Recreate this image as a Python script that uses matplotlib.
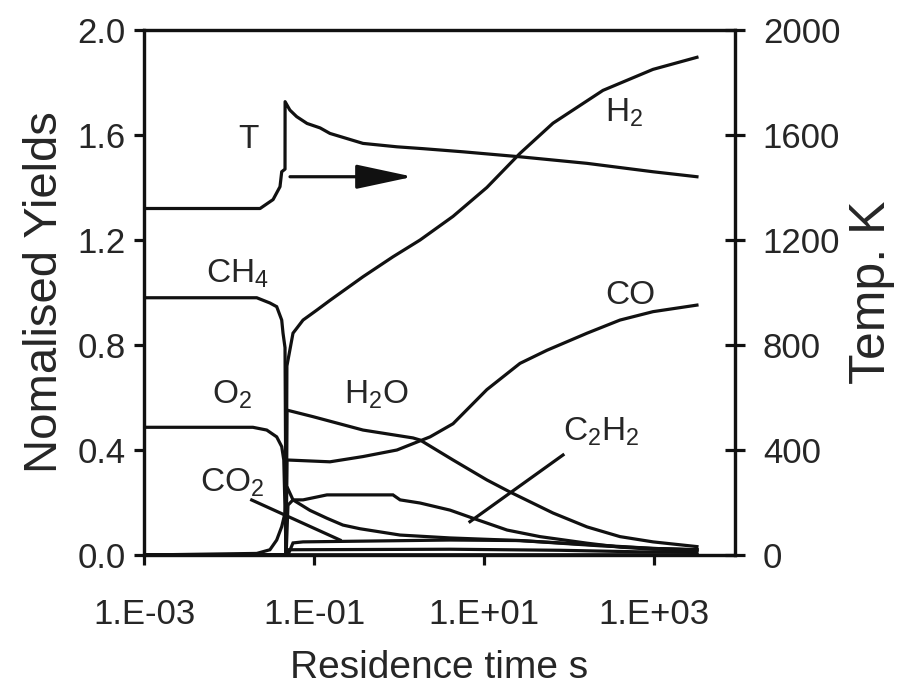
import matplotlib
matplotlib.use("Agg")
import matplotlib.pyplot as plt
from matplotlib.ticker import FixedLocator, FixedFormatter, NullLocator

plt.rcParams['font.family'] = ['Liberation Sans', 'DejaVu Sans']
plt.rcParams['mathtext.fontset'] = 'custom'
plt.rcParams['mathtext.rm'] = 'Liberation Sans'
plt.rcParams['mathtext.it'] = 'Liberation Sans'

# ---------------- data (residence time s, value) ----------------
t_T = [1e-3, 0.0232, 0.033, 0.0398, 0.0417, 0.0456, 0.0457, 0.052, 0.0625, 0.0828,
       0.118, 0.154, 0.377, 0.946, 1.91, 5.66, 26.5, 163, 973, 3200]
v_T = [1320, 1320, 1354, 1403, 1460, 1470, 1727, 1695, 1670, 1644,
       1627, 1606, 1568, 1555, 1548, 1536, 1517, 1492, 1460, 1441]

t_CH4 = [1e-3, 0.0212, 0.0303, 0.0364, 0.0417, 0.0432, 0.0456, 0.047, 3200]
v_CH4 = [0.98, 0.98, 0.96, 0.946, 0.895, 0.845, 0.79, 0.0, 0.0]

t_H2 = [1e-3, 0.047, 0.048, 0.0566, 0.0743, 0.108, 0.154, 0.377, 0.849, 1.77,
        4.32, 10.8, 26.5, 64.8, 251, 973, 3200]
v_H2 = [0.0, 0.0, 0.72, 0.845, 0.895, 0.933, 0.97, 1.06, 1.136, 1.2,
        1.29, 1.40, 1.53, 1.645, 1.77, 1.85, 1.896]

t_O2 = [1e-3, 0.0191, 0.0278, 0.0364, 0.0417, 0.0441, 0.047, 3200]
v_O2 = [0.4865, 0.4865, 0.476, 0.45, 0.413, 0.362, 0.0, 0.0]

t_H2O = [1e-3, 0.047, 0.048, 0.0973, 0.377, 1.46, 1.77, 4.32, 10.8, 20.2,
         64.8, 163, 398, 973, 3200]
v_H2O = [0.0, 0.0, 0.552, 0.527, 0.476, 0.446, 0.438, 0.362, 0.286, 0.24,
         0.16, 0.107, 0.07, 0.05, 0.032]

t_CO = [1e-3, 0.047, 0.048, 0.154, 0.377, 0.946, 2.32, 4.32, 10.8, 26.5,
        55.1, 163, 398, 973, 3200]
v_CO = [0.0, 0.0, 0.362, 0.355, 0.375, 0.40, 0.45, 0.50, 0.63, 0.73,
        0.78, 0.845, 0.895, 0.927, 0.952]

t_C2H2 = [1e-3, 0.047, 0.0494, 0.0566, 0.0743, 0.142, 0.849, 1.03, 1.77, 3.98,
          7.43, 18.7, 45.6, 163, 398, 973, 3200]
v_C2H2 = [0.0, 0.0, 0.19, 0.21, 0.21, 0.229, 0.229, 0.21, 0.198, 0.171,
          0.14, 0.095, 0.07, 0.045, 0.03, 0.022, 0.02]

t_CO2 = [1e-3, 0.0212, 0.0303, 0.0364, 0.0417, 0.0456, 0.0481, 0.0566, 0.0897, 0.142,
         0.219, 0.348, 1.03, 3.98, 26.5, 163, 973, 3200]
v_CO2 = [0.0, 0.006, 0.02, 0.057, 0.108, 0.16, 0.26, 0.21, 0.17, 0.14,
         0.114, 0.10, 0.076, 0.065, 0.055, 0.04, 0.025, 0.02]

t_minor1 = [1e-3, 0.0494, 0.0566, 0.0743, 3.98, 26.5, 78.4, 232, 973, 3200]
v_minor1 = [0.0, 0.0, 0.046, 0.05, 0.057, 0.055, 0.045, 0.035, 0.025, 0.02]

t_minor2 = [1e-3, 0.047, 0.0494, 3.98, 78.4, 684, 3200]
v_minor2 = [0.0, 0.0, 0.02, 0.022, 0.018, 0.012, 0.01]

x_ticks = [1e-3, 1e-1, 1e1, 1e3]
x_ticklabels = ['1.E-03', '1.E-01', '1.E+01', '1.E+03']
y_ticks = [0.0, 0.4, 0.8, 1.2, 1.6, 2.0]
y_ticklabels = ['0.0', '0.4', '0.8', '1.2', '1.6', '2.0']
T_ticks = [0, 400, 800, 1200, 1600, 2000]
T_ticklabels = ['0', '400', '800', '1200', '1600', '2000']

# ---------------- figure ----------------
ink = '#111111'
txt = '#262626'
lw = 2.3

fig = plt.figure(figsize=(9.01, 7.0), dpi=100)
ax = fig.add_axes([144/901, 1-555/700, (735-144)/901, (555-30)/700])
ax2 = ax.twinx()

for tt, vv in [(t_CH4, v_CH4), (t_H2, v_H2), (t_O2, v_O2), (t_H2O, v_H2O),
               (t_CO, v_CO), (t_C2H2, v_C2H2), (t_CO2, v_CO2),
               (t_minor1, v_minor1), (t_minor2, v_minor2)]:
    ax.plot(tt, vv, color=ink, lw=lw, solid_joinstyle='miter')
ax2.plot(t_T, v_T, color=ink, lw=lw)

ax.set_xscale('log')
ax.set_xlim(1e-3, 8970)
ax.set_ylim(0, 2.0)
ax2.set_ylim(0, 2000)

ax.xaxis.set_major_locator(FixedLocator(x_ticks))
ax.xaxis.set_major_formatter(FixedFormatter(x_ticklabels))
ax.xaxis.set_minor_locator(NullLocator())
ax.yaxis.set_major_locator(FixedLocator(y_ticks))
ax.yaxis.set_major_formatter(FixedFormatter(y_ticklabels))
ax2.yaxis.set_major_locator(FixedLocator(T_ticks))
ax2.yaxis.set_major_formatter(FixedFormatter(T_ticklabels))

for a in (ax, ax2):
    for s in a.spines.values():
        s.set_linewidth(lw)
        s.set_color(ink)

ax.tick_params(axis='x', which='major', direction='out', length=7, width=lw,
               labelsize=25, pad=24, colors=ink, labelcolor=txt, top=False)
ax.tick_params(axis='y', direction='out', length=7, width=lw,
               labelsize=25, pad=6, colors=ink, labelcolor=txt, right=False)
ax2.tick_params(axis='y', direction='inout', length=14, width=lw,
                labelsize=25, pad=13, colors=ink, labelcolor=txt)

ax.set_xlabel('Residence time s', fontsize=28, color=txt, labelpad=14)
ax.set_ylabel('Nomalised Yields', fontsize=34, color=txt, labelpad=8)
ax2.set_ylabel('Temp. K', fontsize=36, color=txt, labelpad=6)

# labels
fs = 24
ax2.text(0.0168, 1581, 'T', fontsize=fs, color=txt, ha='center', va='center')
ax.text(0.0127, 1.07, r'CH$_\mathregular{4}$', fontsize=fs, color=txt, ha='center', va='center')
ax.text(0.0108, 0.61, r'O$_\mathregular{2}$', fontsize=fs, color=txt, ha='center', va='center')
ax.text(0.54, 0.61, r'H$_\mathregular{2}$O', fontsize=fs, color=txt, ha='center', va='center')
ax.text(0.0108, 0.275, r'CO$_\mathregular{2}$', fontsize=fs, color=txt, ha='center', va='center')
ax.text(443, 1.686, r'H$_\mathregular{2}$', fontsize=fs, color=txt, ha='center', va='center')
ax.text(530, 0.99, 'CO', fontsize=fs, color=txt, ha='center', va='center')
ax.text(238, 0.47, r'C$_\mathregular{2}$H$_\mathregular{2}$', fontsize=fs, color=txt, ha='center', va='center')

# pointer lines
ax.plot([0.0185, 0.2023], [0.2095, 0.057], color=ink, lw=lw)
ax.plot([85, 6.84], [0.381, 0.127], color=ink, lw=lw)

# arrow towards temperature axis
ax2.annotate('', xy=(1.46, 1441), xytext=(0.0522, 1441),
             arrowprops=dict(arrowstyle='-|>,head_length=1.4,head_width=0.3',
                             mutation_scale=25, lw=lw, color=ink,
                             shrinkA=0, shrinkB=0))

fig.savefig('out.png', dpi=100)
